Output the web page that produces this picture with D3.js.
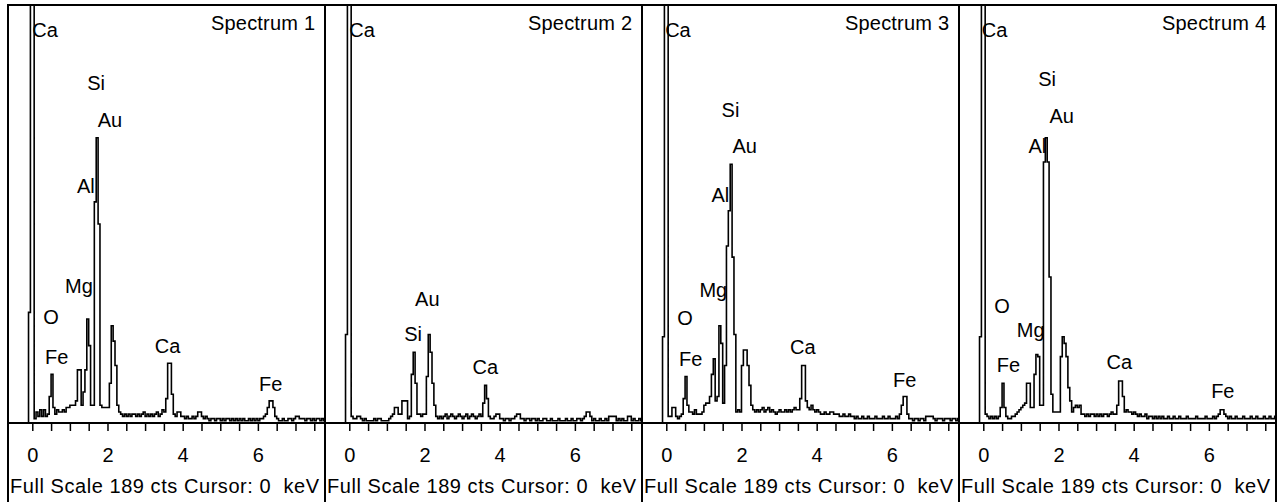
<!DOCTYPE html>
<html>
<head>
<meta charset="utf-8">
<script src="https://cdn.jsdelivr.net/npm/d3@7"></script>
<style>
  html, body { margin: 0; padding: 0; background: #fff; }
  svg { display: block; font-family: "Liberation Sans", Arial, sans-serif; }
</style>
</head>
<body>
<svg id="chart" width="1284" height="502"></svg>
<script>
// EDS spectra: counts per 0.05 keV channel, first channel starts at -0.5 keV.
const energyStart = -0.5;
const energyStep = 0.05;

// one row per 0.5 keV
const spectrum1 = [
  0, 0, 0, 0, 0, 0, 0, 0, 50, 400,
  400, 2, 5, 3, 6, 3, 6, 3, 4, 12,
  22, 7, 4, 6, 5, 5, 6, 5, 7, 7,
  8, 8, 8, 10, 24, 24, 8, 14, 24, 47,
  35, 8, 8, 100, 129, 90, 8, 7, 7, 7,
  7, 18, 44, 37, 26, 8, 5, 4, 3, 4,
  3, 4, 3, 4, 4, 3, 4, 3, 4, 5,
  3, 4, 3, 4, 3, 4, 5, 3, 4, 6,
  5, 11, 27, 27, 13, 4, 3, 5, 5, 3,
  3, 2, 3, 2, 2, 3, 2, 3, 5, 5,
  3, 2, 3, 2, 1, 2, 2, 1, 2, 2,
  1, 2, 1, 2, 2, 1, 2, 1, 2, 1,
  2, 1, 2, 1, 1, 2, 1, 2, 1, 2,
  1, 2, 2, 3, 4, 7, 10, 10, 7, 3,
  2, 1, 1, 2, 1, 1, 2, 2, 1, 2,
  3, 3, 2, 2, 2, 1, 2, 2, 1, 2,
  1, 2, 2, 1, 2, 1
];
const spectrum2 = [
  0, 0, 0, 0, 0, 0, 0, 0, 40, 400,
  400, 3, 2, 2, 3, 3, 2, 1, 2, 1,
  1, 1, 1, 2, 1, 2, 2, 1, 1, 1,
  1, 2, 3, 4, 7, 7, 4, 4, 10, 10,
  10, 2, 3, 22, 32, 18, 4, 4, 3, 4,
  4, 21, 40, 32, 18, 8, 3, 2, 3, 2,
  3, 4, 2, 3, 4, 3, 2, 3, 4, 3,
  2, 3, 4, 2, 3, 4, 3, 2, 3, 4,
  3, 9, 17, 11, 3, 2, 2, 3, 4, 4,
  2, 2, 1, 2, 2, 1, 2, 2, 3, 4,
  4, 2, 2, 1, 2, 2, 1, 2, 2, 1,
  2, 1, 1, 2, 2, 1, 1, 2, 1, 1,
  1, 2, 1, 1, 1, 2, 1, 1, 2, 1,
  1, 2, 2, 1, 2, 3, 5, 5, 3, 1,
  2, 1, 1, 2, 1, 1, 2, 1, 3, 3,
  3, 3, 1, 2, 1, 2, 1, 1, 3, 3,
  1, 2, 1, 1, 2, 1
];
const spectrum3 = [
  0, 0, 0, 0, 0, 0, 0, 0, 39, 400,
  400, 3, 3, 7, 7, 3, 2, 3, 4, 11,
  21, 8, 5, 5, 4, 6, 4, 4, 4, 5,
  8, 9, 9, 12, 22, 29, 10, 12, 44, 36,
  9, 26, 80, 96, 117, 75, 40, 5, 6, 5,
  26, 33, 33, 26, 17, 8, 6, 5, 6, 5,
  6, 7, 5, 6, 7, 5, 6, 5, 4, 5,
  6, 5, 5, 6, 5, 6, 5, 6, 7, 6,
  6, 11, 26, 26, 10, 7, 6, 8, 6, 5,
  6, 5, 4, 4, 5, 4, 4, 5, 5, 4,
  4, 4, 3, 3, 4, 3, 3, 4, 3, 3,
  2, 3, 2, 2, 3, 2, 2, 3, 2, 2,
  2, 3, 2, 2, 2, 3, 2, 2, 3, 2,
  2, 2, 3, 2, 4, 8, 12, 12, 4, 2,
  2, 1, 2, 2, 1, 2, 2, 1, 3, 3,
  3, 3, 2, 1, 2, 2, 2, 1, 2, 2,
  2, 1, 2, 2, 1, 2
];
const spectrum4 = [
  0, 0, 0, 0, 0, 0, 0, 0, 39, 400,
  400, 4, 3, 2, 3, 2, 3, 2, 3, 7,
  18, 7, 3, 2, 2, 3, 3, 4, 5, 6,
  7, 8, 9, 18, 18, 7, 7, 22, 31, 30,
  8, 8, 118, 129, 118, 66, 13, 5, 5, 5,
  5, 30, 39, 36, 30, 16, 10, 5, 7, 8,
  7, 8, 4, 4, 3, 4, 3, 4, 4, 3,
  4, 3, 4, 3, 4, 4, 3, 4, 5, 4,
  4, 8, 19, 19, 12, 5, 6, 5, 5, 4,
  5, 4, 3, 4, 3, 3, 4, 2, 3, 3,
  2, 3, 2, 3, 2, 3, 2, 2, 3, 2,
  2, 3, 2, 2, 3, 2, 2, 2, 3, 2,
  2, 2, 2, 3, 2, 2, 2, 2, 3, 2,
  2, 2, 3, 2, 3, 4, 6, 6, 4, 3,
  2, 3, 2, 2, 3, 2, 2, 2, 3, 2,
  2, 2, 3, 2, 2, 3, 2, 2, 2, 3,
  2, 2, 3, 2, 2, 3
];

// peak annotations: element, energy (keV) and counts of the text baseline start
const labels1 = [
  { el: "Ca", e: 0.00, c: 174.5 }, { el: "Si", e: 1.46, c: 150.5 },
  { el: "Au", e: 1.74, c: 134.0 }, { el: "Al", e: 1.19, c: 103.8 },
  { el: "Mg", e: 0.87, c: 59.0 },  { el: "O",  e: 0.29, c: 44.8 },
  { el: "Fe", e: 0.34, c: 26.7 },  { el: "Ca", e: 3.26, c: 31.7 },
  { el: "Fe", e: 6.03, c: 14.5 }
];
const labels2 = [
  { el: "Ca", e: 0.00, c: 174.5 }, { el: "Au", e: 1.75, c: 52.9 },
  { el: "Si", e: 1.46, c: 37.2 },  { el: "Ca", e: 3.28, c: 22.2 }
];
const labels3 = [
  { el: "Ca", e: -0.03, c: 174.5 }, { el: "Si", e: 1.47, c: 138.2 },
  { el: "Au", e: 1.76, c: 122.0 },  { el: "Al", e: 1.20, c: 100.1 },
  { el: "Mg", e: 0.88, c: 57.1 },   { el: "O",  e: 0.29, c: 44.3 },
  { el: "Fe", e: 0.34, c: 25.7 },   { el: "Ca", e: 3.29, c: 31.2 },
  { el: "Fe", e: 6.03, c: 16.1 }
];
const labels4 = [
  { el: "Ca", e: -0.04, c: 174.5 }, { el: "Si", e: 1.46, c: 152.4 },
  { el: "Au", e: 1.76, c: 135.8 },  { el: "Al", e: 1.20, c: 122.2 },
  { el: "O",  e: 0.29, c: 49.6 },   { el: "Mg", e: 0.89, c: 38.7 },
  { el: "Fe", e: 0.36, c: 23.2 },   { el: "Ca", e: 3.28, c: 24.3 },
  { el: "Fe", e: 6.06, c: 11.1 }
];

const spectrumNames = ["Spectrum 1", "Spectrum 2", "Spectrum 3", "Spectrum 4"];
const spectra = [spectrum1, spectrum2, spectrum3, spectrum4];
const peakLabels = [labels1, labels2, labels3, labels4];

const tickValues = [0, 0.5, 1, 1.5, 2, 2.5, 3, 3.5, 4, 4.5, 5, 5.5, 6, 6.5, 7, 7.5];
const tickLabels = { 0: "0", 2: "2", 4: "4", 6: "6" };
const energyDomain = [-0.646, 7.785];
const fullScale = 189;
const footerText = "Full Scale 189 cts Cursor: 0  keV";

// ---- layout ----
const panelX0 = 8, panelW = 317;
const plotTop = 5, axisY = 423, frameBottom = 504;

const svg = d3.select("#chart");

spectra.forEach((counts, p) => {
  const left = panelX0 + p * panelW;
  const g = svg.append("g");

  const x = d3.scaleLinear().domain(energyDomain).range([left, left + panelW]);
  const y = d3.scaleLinear().domain([0, fullScale]).range([axisY, plotTop]);

  const clipId = "clip" + p;
  svg.append("clipPath").attr("id", clipId)
    .append("rect")
    .attr("x", left).attr("y", plotTop)
    .attr("width", panelW).attr("height", axisY - plotTop);

  // panel title
  g.append("text")
    .attr("x", left + panelW - 10).attr("y", 30)
    .attr("text-anchor", "end")
    .attr("font-size", 20)
    .attr("textLength", 104)
    .attr("lengthAdjust", "spacing")
    .text(spectrumNames[p]);

  // element labels
  g.append("g").selectAll("text")
    .data(peakLabels[p])
    .join("text")
    .attr("x", d => x(d.e))
    .attr("y", d => y(d.c))
    .attr("font-size", 20)
    .text(d => d.el);

  // spectrum as a step trace
  const pts = counts.map((c, i) => ({ e: energyStart + i * energyStep, c }));
  pts.push({ e: energyStart + counts.length * energyStep, c: counts[counts.length - 1] });
  const line = d3.line()
    .x(d => x(d.e))
    .y(d => y(d.c))
    .curve(d3.curveStepAfter);
  g.append("path")
    .attr("clip-path", `url(#${clipId})`)
    .attr("d", line(pts))
    .attr("fill", "none")
    .attr("stroke", "#000")
    .attr("stroke-width", 1.6);

  // energy axis
  const axis = d3.axisBottom(x)
    .tickValues(tickValues)
    .tickSize(8)
    .tickPadding(17)
    .tickFormat(d => tickLabels[d] || "");
  const ax = g.append("g").attr("transform", `translate(0,${axisY})`).call(axis);
  ax.select(".domain").remove();
  ax.selectAll(".tick line").attr("stroke", "#000").attr("stroke-width", 1.5);
  ax.selectAll(".tick text")
    .attr("font-size", 20)
    .attr("font-family", "Liberation Sans, Arial, sans-serif")
    .attr("fill", "#000");

  g.append("line")
    .attr("x1", left).attr("x2", left + panelW)
    .attr("y1", axisY).attr("y2", axisY)
    .attr("stroke", "#000").attr("stroke-width", 2);

  // status line
  g.append("text")
    .attr("x", left + 2).attr("y", 493)
    .attr("font-size", 20)
    .attr("textLength", 309)
    .attr("lengthAdjust", "spacing")
    .style("white-space", "pre")
    .text(footerText);

  // panel frame
  g.append("rect")
    .attr("x", left).attr("y", plotTop)
    .attr("width", panelW).attr("height", frameBottom - plotTop)
    .attr("fill", "none")
    .attr("stroke", "#000").attr("stroke-width", 2);
});
</script>
</body>
</html>
